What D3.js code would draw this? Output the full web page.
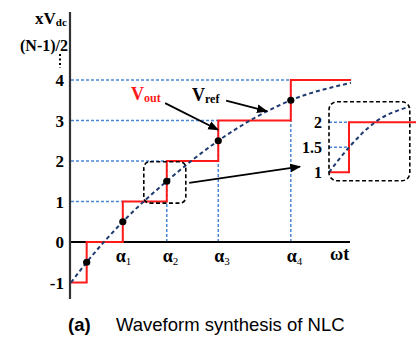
<!DOCTYPE html>
<html>
<head>
<meta charset="utf-8">
<script src="https://cdn.jsdelivr.net/npm/d3@7"></script>
<style>
  body { margin: 0; background: #fff; }
  svg { display: block; }
  .serif { font-family: "Liberation Serif", "Times New Roman", serif; font-weight: bold; }
</style>
</head>
<body>
<div id="wrapper"></div>
<script>
// levels of the staircase and the switching angles (ωt units)
const levels = [-1, 0, 1, 2, 3, 4]
const alphas = [5.6, 18.5, 34.2, 52.6, 78.5]
const alphaLabels = ["1", "2", "3", "4"]
const xEnd = 100
// reference curve
const vrefX = [0, 5.6, 18.5, 34.2, 52.6, 78.5, 100]
const vrefY = [-1, -0.5, 0.5, 1.5, 2.5, 3.5, 3.93]
// zoomed inset
const insetLevels = [1, 1.5, 2]
const insetCurveX = [0, 0.25, 0.575, 1]
const insetCurveY = [1, 1.5, 2, 2.31]
const insetStep = 0.25

const width = 416, height = 337

const svg = d3.select("#wrapper").append("svg")
    .attr("width", width).attr("height", height)

const defs = svg.append("defs")
defs.append("marker").attr("id", "arr")
    .attr("viewBox", "0 0 10 10").attr("refX", 9).attr("refY", 5)
    .attr("markerWidth", 6).attr("markerHeight", 6).attr("orient", "auto")
    .attr("markerUnits", "strokeWidth")
  .append("path").attr("d", "M0,1 L10,5 L0,9 Z").attr("fill", "#000")

const x = d3.scaleLinear().domain([0, xEnd]).range([71, 351])
const y = d3.scaleLinear().domain([-1, 4]).range([282.5, 80])

const blue = "#4a86d8"
const navy = "#1f3a70"
const red = "#ff1a1a"

//! blue guides
const guides = svg.append("g").attr("stroke", blue).attr("stroke-width", 1.5)
    .attr("stroke-dasharray", "3,2").attr("fill", "none")
levels.filter(l => l > 0).forEach((l, i) => {
    guides.append("line")
        .attr("x1", x(0)).attr("x2", x(alphas[i + 1]))
        .attr("y1", y(l)).attr("y2", y(l))
    if (i > 0) {
        guides.append("line")
            .attr("x1", x(alphas[i + 1])).attr("x2", x(alphas[i + 1]))
            .attr("y1", y(0)).attr("y2", y(l))
    }
})

//! axes
svg.append("line").attr("x1", x(0)).attr("x2", x(xEnd) - 1)
    .attr("y1", y(0)).attr("y2", y(0))
    .attr("stroke", "#000").attr("stroke-width", 2)
svg.append("line").attr("x1", x(0) - 1).attr("x2", x(0) - 1)
    .attr("y1", 12).attr("y2", 299)
    .attr("stroke", "#333").attr("stroke-width", 2.2)

//! Vout staircase
const stairs = [[0, -1]]
alphas.forEach((a, i) => {
    stairs.push([a, levels[i]])
    stairs.push([a, levels[i + 1]])
})
stairs.push([xEnd, 4])
svg.append("path")
    .attr("d", d3.line().x(d => x(d[0])).y(d => y(d[1]))(stairs))
    .attr("fill", "none").attr("stroke", red).attr("stroke-width", 2)

//! Vref
const vref = vrefX.map((v, i) => [v, vrefY[i]])
svg.append("path")
    .attr("d", d3.line().curve(d3.curveMonotoneX).x(d => x(d[0])).y(d => y(d[1]))(vref))
    .attr("fill", "none").attr("stroke", navy).attr("stroke-width", 2)
    .attr("stroke-dasharray", "4,3")
svg.selectAll(".dot").data(alphas).join("circle")
    .attr("cx", d => x(d)).attr("cy", (d, i) => y(levels[i] + 0.5))
    .attr("r", 3.6).attr("fill", "#000")

//! small zoom box
svg.append("rect")
    .attr("x", x(26)).attr("y", y(1.98))
    .attr("width", x(41) - x(26)).attr("height", y(0.96) - y(1.98))
    .attr("rx", 6).attr("fill", "none").attr("stroke", "#000")
    .attr("stroke-width", 1.6).attr("stroke-dasharray", "4,2.5")

//! inset
const ix = d3.scaleLinear().domain([0, 1]).range([329, 409])
const iy = d3.scaleLinear().domain([1, 2]).range([172.3, 122.3])
insetLevels.filter(l => l > 1).forEach(l => {
    svg.append("line").attr("x1", ix(0)).attr("x2", ix(insetStep))
        .attr("y1", iy(l)).attr("y2", iy(l))
        .attr("stroke", blue).attr("stroke-width", 1.5).attr("stroke-dasharray", "3,2")
})
svg.append("path")
    .attr("d", d3.line().x(d => ix(d[0])).y(d => iy(d[1]))(
        [[0, 1], [insetStep, 1], [insetStep, 2], [1.09, 2]]))
    .attr("fill", "none").attr("stroke", red).attr("stroke-width", 2)
svg.append("path")
    .attr("d", d3.line().curve(d3.curveMonotoneX).x(d => ix(d[0])).y(d => iy(d[1]))(
        insetCurveX.map((v, i) => [v, insetCurveY[i]])))
    .attr("fill", "none").attr("stroke", navy).attr("stroke-width", 2)
    .attr("stroke-dasharray", "4,3")
svg.append("rect")
    .attr("x", ix(0)).attr("y", iy(2.41))
    .attr("width", ix(1.01) - ix(0)).attr("height", iy(0.83) - iy(2.41))
    .attr("rx", 8).attr("fill", "none").attr("stroke", "#000")
    .attr("stroke-width", 1.6).attr("stroke-dasharray", "4,2.5")
svg.selectAll(".ilab").data(insetLevels).join("text")
    .attr("class", "serif").attr("x", 322).attr("y", d => iy(d) + 6)
    .attr("text-anchor", "end").attr("font-size", 16).text(d => d)

//! arrows
const arrows = [
    [[33.6, 3.43], [52.5, 2.77]],
    [[55.4, 3.49], [69.9, 3.23]],
    [[42.2, 1.46], [81.8, 1.86]]
]
svg.selectAll(".arrow").data(arrows).join("line")
    .attr("x1", d => x(d[0][0])).attr("y1", d => y(d[0][1]))
    .attr("x2", d => x(d[1][0])).attr("y2", d => y(d[1][1]))
    .attr("stroke", "#000").attr("stroke-width", 1.8)
    .attr("marker-end", "url(#arr)")

//! text
const vout = svg.append("text").attr("class", "serif").attr("fill", red)
    .attr("x", 131).attr("y", y(3.5))
vout.append("tspan").attr("font-size", 18).text("V")
vout.append("tspan").attr("font-size", 12).attr("dy", 2).text("out")
const vr = svg.append("text").attr("class", "serif").attr("fill", "#000")
    .attr("x", 192).attr("y", y(3.47))
vr.append("tspan").attr("font-size", 18).text("V")
vr.append("tspan").attr("font-size", 12).attr("dy", 2).text("ref")

svg.selectAll(".ytick").data(levels).join("text")
    .attr("class", "serif").attr("x", 64).attr("y", d => y(d) + 6)
    .attr("text-anchor", "end").attr("font-size", 17).text(d => d)

const yl = svg.append("text").attr("class", "serif").attr("x", 35).attr("y", 24)
yl.append("tspan").attr("font-size", 17).text("xV")
yl.append("tspan").attr("font-size", 11).attr("dy", 2).text("dc")
svg.append("text").attr("class", "serif").attr("x", 68).attr("y", 51)
    .attr("text-anchor", "end").attr("font-size", 16).text("(N-1)/2")
svg.append("line").attr("x1", 60).attr("x2", 60).attr("y1", 54).attr("y2", 68)
    .attr("stroke", "#000").attr("stroke-width", 2).attr("stroke-dasharray", "2,2.5")

alphas.slice(1).forEach((a, i) => {
    const t = svg.append("text").attr("class", "serif")
        .attr("x", x(a) - 7 + (i === 0 ? 0 : 3)).attr("y", 262)
    t.append("tspan").attr("font-size", 18).text("α")
    t.append("tspan").attr("font-size", 11).attr("dy", 3).attr("font-weight", "normal")
        .text(alphaLabels[i])
})
svg.append("text").attr("class", "serif").attr("x", 330).attr("y", 260)
    .attr("font-size", 18).text("ωt")

const cap = svg.append("text").attr("x", 68).attr("y", 331)
    .attr("font-family", "Liberation Sans, Arial, sans-serif").attr("font-size", 18.5)
cap.append("tspan").attr("font-weight", "bold").text("(a)")
cap.append("tspan").attr("x", 116).text("Waveform synthesis of NLC")
</script>
</body>
</html>
